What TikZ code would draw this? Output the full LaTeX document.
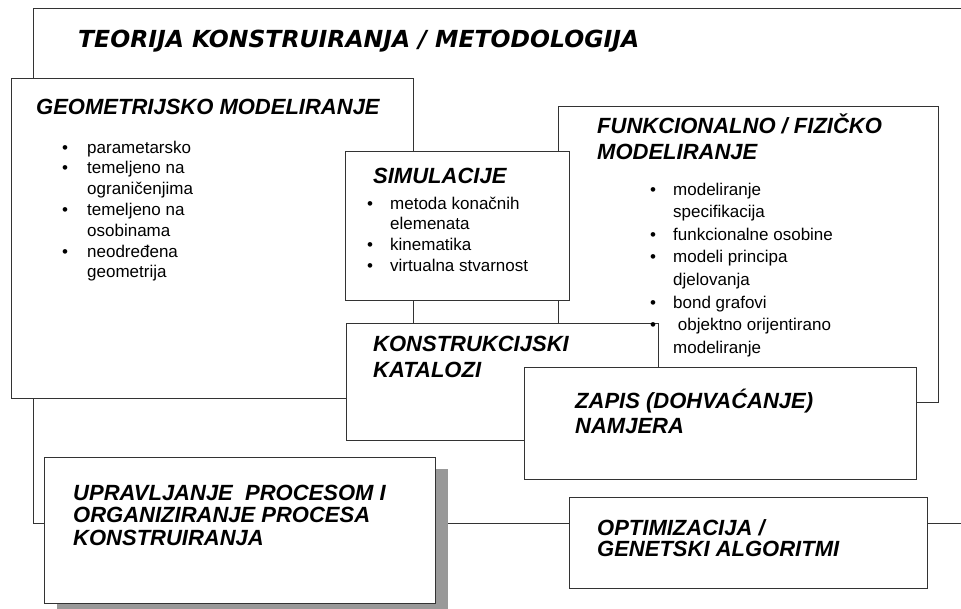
\documentclass[tikz,border=0pt]{standalone}
\usepackage{fontspec}
\setmainfont{Liberation Sans}
\newfontfamily\verdanalike{DejaVu Sans}
\usepackage{tikz}
\usetikzlibrary{positioning}
\usetikzlibrary{shadows}
\tikzset{
box/.style={rectangle, draw=black!80, fill=white, line width=1pt, anchor=north west, inner sep=0pt},
boxtitle/.style={anchor=base west, inner sep=0pt, align=left, font=\fontsize{22}{26}\selectfont\bfseries\itshape},
bulletlist/.style={anchor=base west, inner sep=0pt, align=left, font=\fontsize{17}{20.8}\selectfont},
frame/.style={draw=black!80, line width=1pt}
}
\def \itm{\makebox[23pt][l]{\textbullet}}
\def \cnt{\hspace*{23pt}}

\begin{document}
\begin{tikzpicture}[x=1pt, y=-1pt]
\useasboundingbox (0,0) rectangle (961,608);
%Frame
\coordinate (FTr) at (961,8);
\coordinate (FTl) at (33,8);
\coordinate (FBl) at (33,523);
\coordinate (FBr) at (961,523);
\draw[frame] (FTr) -- (FTl) -- (FBl) -- (FBr);
\node (TK) [anchor=base west, inner sep=0pt, font=\verdanalike\fontsize{23.5}{28}\selectfont\bfseries\itshape] at (78,47) {TEORIJA KONSTRUIRANJA / METODOLOGIJA};

%Boxes
\node (GM) [box, minimum width=402pt, minimum height=320pt] at (11,78) {};
\node (FM) [box, minimum width=380pt, minimum height=296pt] at (558,106) {};
\node (SI) [box, minimum width=224pt, minimum height=149pt] at (345,151) {};
\node (KK) [box, minimum width=312pt, minimum height=117pt] at (346,323) {};
\node (ZN) [box, minimum width=392pt, minimum height=112pt] at (524,367) {};
\node (UP) [box, minimum width=391pt, minimum height=146pt,
  drop shadow={shadow xshift=12pt, shadow yshift=-11pt, fill=black!40, opacity=1}] at (44,457) {};
\node (OG) [box, minimum width=358pt, minimum height=91pt] at (569,497) {};

%Titles (base = last line)
\node (GMt) [boxtitle] at ([shift={(25,36)}]GM.north west) {GEOMETRIJSKO MODELIRANJE};
\node (FMt) [boxtitle] at ([shift={(39,53)}]FM.north west) {FUNKCIONALNO / FIZI\v{C}KO\\MODELIRANJE};
\node (SIt) [boxtitle] at ([shift={(28,32)}]SI.north west) {SIMULACIJE};
\node (KKt) [boxtitle, font=\fontsize{22}{26.6}\selectfont\bfseries\itshape] at ([shift={(27,54.6)}]KK.north west) {KONSTRUKCIJSKI\\KATALOZI};
\node (ZNt) [boxtitle, font=\fontsize{22}{25}\selectfont\bfseries\itshape] at ([shift={(51,66)}]ZN.north west) {ZAPIS (DOHVA\'CANJE)\\NAMJERA};
\node (UPt) [boxtitle, font=\fontsize{22}{22.5}\selectfont\bfseries\itshape] at ([shift={(29,88)}]UP.north west) {UPRAVLJANJE\ \ PROCESOM I\\ORGANIZIRANJE PROCESA\\KONSTRUIRANJA};
\node (OGt) [boxtitle, font=\fontsize{22}{21.5}\selectfont\bfseries\itshape] at ([shift={(28,59.5)}]OG.north west) {OPTIMIZACIJA /\\GENETSKI ALGORITMI};

%Lists
\node (GMl) [bulletlist] at (62,277.8) {\makebox[25pt][l]{\textbullet}parametarsko\\
  \makebox[25pt][l]{\textbullet}temeljeno na\\\hspace*{25pt}ograni\v{c}enjima\\
  \makebox[25pt][l]{\textbullet}temeljeno na\\\hspace*{25pt}osobinama\\
  \makebox[25pt][l]{\textbullet}neodre\dj ena\\\hspace*{25pt}geometrija};
\node (SIl) [bulletlist] at (367,271.4) {\itm metoda kona\v{c}nih\\\cnt elemenata\\
  \itm kinematika\\\itm virtualna stvarnost};
\node (FMl) [bulletlist, font=\fontsize{17}{22.6}\selectfont] at (650,353.2) {\itm modeliranje\\\cnt specifikacija\\
  \itm funkcionalne osobine\\
  \itm modeli principa\\\cnt djelovanja\\
  \itm bond grafovi\\
  \itm\ objektno orijentirano\\\cnt modeliranje};
\end{tikzpicture}
\end{document}
